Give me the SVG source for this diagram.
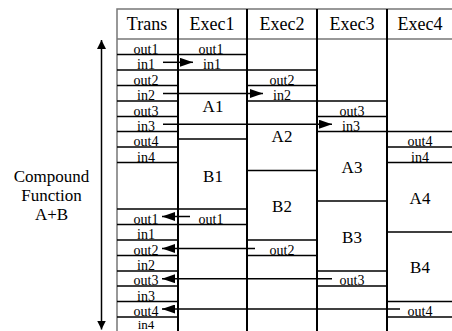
<svg xmlns="http://www.w3.org/2000/svg" width="452" height="331" viewBox="0 0 452 331">
<defs>
<style>
text{font-family:'Liberation Serif','Times New Roman','DejaVu Serif',serif;fill:#000}
.h{font-size:18px;text-anchor:middle}
.r{font-size:14px;text-anchor:middle}
.b{font-size:17px;text-anchor:middle}
.l{font-size:17px;text-anchor:middle}
.col{stroke:#000;stroke-width:2;fill:none}
.row{stroke:#000;stroke-width:1.5;fill:none}
.frame{stroke:#777;stroke-width:1.5;fill:none}
.conn{stroke:#000;stroke-width:1.5;fill:none}
</style>
<marker id="ah" viewBox="0 0 13 9" refX="13" refY="4.5" markerWidth="13" markerHeight="9" markerUnits="userSpaceOnUse" orient="auto">
<path d="M0,0 L13,4.5 L0,9 Z" fill="#000"/>
</marker>
<marker id="ahv" viewBox="0 0 9 9" refX="9" refY="4.5" markerWidth="9" markerHeight="9" markerUnits="userSpaceOnUse" orient="auto">
<path d="M0,0 L9,4.5 L0,9 Z" fill="#000"/>
</marker>
</defs>
<rect width="452" height="331" fill="#fff"/>

<g font-family="'Liberation Serif', 'Times New Roman', 'DejaVu Serif', serif">
<g id="frame">
<path class="frame" d="M117,331 V9 H452 M117,39 H452"/>
<path class="col" d="M178,9 V331 M247,9 V331 M317,9 V331 M387,9 V331"/>
</g>

<g id="header">
<text class="h" x="147" y="30">Trans</text>
<text class="h" x="212" y="30">Exec1</text>
<text class="h" x="282" y="30">Exec2</text>
<text class="h" x="352" y="30">Exec3</text>
<text class="h" x="420" y="30">Exec4</text>
</g>

<g id="trans">
<path class="row" d="M117,54.5 H178 M117,70 H178 M117,85.5 H178 M117,101 H178 M117,116.5 H178 M117,131.5 H178 M117,147 H178 M117,162.5 H178 M117,209 H178 M117,224.5 H178 M117,240 H178 M117,255.5 H178 M117,271 H178 M117,286 H178 M117,301.5 H178 M117,317 H178"/>
<text class="r" x="146" y="53.5">out1</text>
<text class="r" x="146" y="69">in1</text>
<text class="r" x="146" y="84.5">out2</text>
<text class="r" x="146" y="100">in2</text>
<text class="r" x="146" y="115.5">out3</text>
<text class="r" x="146" y="130.5">in3</text>
<text class="r" x="146" y="146">out4</text>
<text class="r" x="146" y="161.5">in4</text>
<text class="r" x="146" y="223.5">out1</text>
<text class="r" x="146" y="239">in1</text>
<text class="r" x="146" y="254.5">out2</text>
<text class="r" x="146" y="270">in2</text>
<text class="r" x="146" y="285">out3</text>
<text class="r" x="146" y="300.5">in3</text>
<text class="r" x="146" y="315.5">out4</text>
<text class="r" x="146" y="329" style="font-size:13px">in4</text>
</g>

<g id="exec1">
<path class="row" d="M178,54.5 H247 M178,70 H247 M178,139 H247 M178,209 H247 M178,224.5 H247"/>
<text class="r" x="211" y="53.5">out1</text>
<text class="r" x="212" y="69">in1</text>
<text class="b" x="213" y="112">A1</text>
<text class="b" x="213" y="181.5">B1</text>
<text class="r" x="211" y="223.5">out1</text>
</g>

<g id="exec2">
<path class="row" d="M247,70 H317 M247,85.5 H317 M247,101 H317 M247,170.5 H317 M247,240 H317 M247,255.5 H317"/>
<text class="r" x="282" y="84.5">out2</text>
<text class="r" x="282" y="100">in2</text>
<text class="b" x="282" y="142">A2</text>
<text class="b" x="282" y="211.5">B2</text>
<text class="r" x="282" y="254.5">out2</text>
</g>

<g id="exec3">
<path class="row" d="M317,101 H387 M317,116.5 H387 M317,131.5 H387 M317,201 H387 M317,271 H387 M317,286 H387"/>
<text class="r" x="352" y="115.5">out3</text>
<text class="r" x="351" y="130.5">in3</text>
<text class="b" x="352" y="173">A3</text>
<text class="b" x="352" y="242.5">B3</text>
<text class="r" x="352" y="285">out3</text>
</g>

<g id="exec4">
<path class="row" d="M387,131.5 H452 M387,147 H452 M387,162.5 H452 M387,232 H452 M387,301.5 H452 M387,317 H452"/>
<text class="r" x="420" y="146">out4</text>
<text class="r" x="420" y="161.5">in4</text>
<text class="b" x="420" y="203.5">A4</text>
<text class="b" x="420" y="273">B4</text>
<text class="r" x="420" y="316">out4</text>
</g>

<g id="label">
<text class="l" x="51.5" y="182">Compound</text>
<text class="l" x="51.5" y="201">Function</text>
<text class="l" x="51.5" y="220">A+B</text>
</g>

<g id="connectors">
<line class="conn" x1="163" y1="62.3" x2="193" y2="62.3" marker-end="url(#ah)"/>
<line class="conn" x1="163" y1="93.5" x2="263" y2="93.5" marker-end="url(#ah)"/>
<line class="conn" x1="163" y1="124.2" x2="332" y2="124.2" marker-end="url(#ah)"/>
<line class="conn" x1="190" y1="216.5" x2="162" y2="216.5" marker-end="url(#ah)"/>
<line class="conn" x1="255" y1="248.5" x2="162" y2="248.5" marker-end="url(#ah)"/>
<line class="conn" x1="332" y1="278.7" x2="162" y2="278.7" marker-end="url(#ah)"/>
<line class="conn" x1="400" y1="309" x2="162" y2="309" marker-end="url(#ah)"/>
<line class="conn" x1="101.5" y1="185" x2="101.5" y2="40" marker-end="url(#ahv)"/>
<line class="conn" x1="101.5" y1="185" x2="101.5" y2="329.5" marker-end="url(#ahv)"/>
</g>
</g>
</svg>
